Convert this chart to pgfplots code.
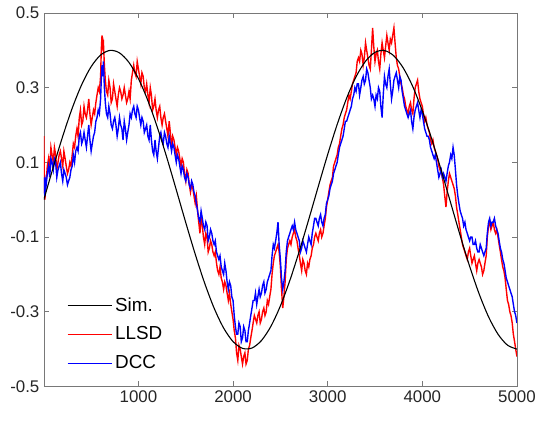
\documentclass[border=0pt]{standalone}
\usepackage{fontspec}
\setmainfont{Liberation Sans}
\usepackage{pgfplots}
\pgfplotsset{compat=1.18}
\usepackage{pgfplotstable}
\definecolor{axgray}{RGB}{120,120,120}
\definecolor{txtgray}{RGB}{38,38,38}

\pgfplotstableread{
x r b
0 .17 .06
6 .04 .02
12 .00 .01
18 .04 .05
25 .05 .04
37 .09 .07
50 .11 .09
62 .08 .06
75 .14 .11
87 .12 .10
100 .10 .08
112 .14 .11
125 .12 .10
137 .08 .06
150 .10 .08
162 .12 .09
175 .13 .10
187 .11 .07
200 .09 .05
212 .13 .08
225 .11 .07
237 .09 .06
250 .07 .04
262 .08 .05
275 .10 .06
287 .09 .08
300 .12 .09
312 .15 .12
325 .14 .10
337 .17 .13
350 .19 .14
362 .17 .13
375 .22 .17
387 .24 .18
400 .20 .15
412 .21 .16
425 .25 .18
437 .23 .16
450 .22 .14
462 .24 .17
475 .27 .20
487 .23 .16
500 .20 .13
512 .22 .15
525 .24 .17
537 .23 .18
550 .26 .21
562 .28 .22
575 .30 .24
587 .29 .23
600 .33 .27
607 .40 .32
615 .44 .36
622 .41 .33
630 .42 .37
640 .36 .30
650 .32 .26
662 .29 .23
675 .28 .22
687 .32 .25
700 .30 .23
712 .26 .20
725 .27 .19
737 .31 .21
750 .29 .22
762 .27 .20
775 .25 .17
787 .28 .19
800 .30 .22
812 .29 .20
825 .27 .19
837 .28 .16
850 .30 .21
862 .28 .19
875 .26 .16
887 .27 .18
900 .29 .20
912 .27 .23
925 .32 .22
937 .34 .24
950 .36 .25
962 .34 .23
975 .33 .22
987 .37 .25
1000 .35 .24
1012 .33 .22
1025 .31 .20
1037 .34 .22
1050 .33 .21
1062 .30 .18
1075 .29 .19
1087 .31 .20
1100 .28 .17
1112 .26 .16
1125 .30 .20
1137 .28 .16
1150 .24 .13
1162 .25 .12
1175 .27 .16
1187 .24 .13
1200 .22 .11
1212 .24 .14
1225 .25 .17
1237 .22 .18
1250 .20 .16
1262 .22 .15
1275 .23 .18
1287 .21 .17
1300 .19 .15
1312 .17 .14
1325 .21 .17
1337 .18 .15
1350 .14 .13
1362 .17 .15
1375 .16 .14
1387 .14 .12
1400 .12 .10
1412 .14 .12
1425 .13 .11
1437 .11 .09
1450 .09 .07
1462 .11 .09
1475 .10 .08
1487 .07 .06
1500 .05 .05
1512 .08 .07
1525 .07 .06
1537 .04 .04
1550 .02 .03
1562 .04 .05
1575 .03 .04
1587 .01 .02
1600 -.01 .01
1612 .01 -.01
1625 -.03 -.03
1637 -.06 -.05
1650 -.09 -.06
1662 -.05 -.03
1675 -.07 -.05
1687 -.10 -.07
1700 -.12 -.08
1712 -.09 -.06
1725 -.10 -.07
1737 -.14 -.11
1750 -.13 -.10
1762 -.11 -.08
1775 -.12 -.09
1787 -.14 -.11
1800 -.15 -.12
1812 -.14 -.11
1825 -.17 -.14
1837 -.19 -.15
1850 -.20 -.16
1862 -.18 -.15
1875 -.21 -.18
1887 -.22 -.19
1900 -.24 -.20
1912 -.22 -.17
1925 -.23 -.19
1937 -.25 -.22
1950 -.27 -.24
1962 -.25 -.22
1975 -.28 -.23
1987 -.30 -.26
2000 -.32 -.27
2012 -.35 -.31
2025 -.37 -.34
2037 -.41 -.36
2050 -.43 -.36
2062 -.39 -.33
2075 -.40 -.34
2087 -.42 -.38
2100 -.44 -.37
2112 -.42 -.34
2125 -.41 -.35
2137 -.44 -.38
2150 -.43 -.38
2162 -.40 -.35
2175 -.39 -.33
2187 -.37 -.31
2200 -.35 -.29
2212 -.33 -.27
2225 -.31 -.27
2237 -.32 -.25
2250 -.33 -.28
2262 -.31 -.26
2275 -.30 -.24
2287 -.33 -.26
2300 -.32 -.25
2312 -.30 -.23
2325 -.29 -.22
2337 -.31 -.25
2350 -.30 -.24
2362 -.27 -.22
2375 -.28 -.21
2387 -.26 -.20
2400 -.24 -.19
2412 -.20 -.15
2425 -.17 -.12
2437 -.15 -.13
2450 -.14 -.11
2462 -.13 -.09
2475 -.12 -.06
2487 -.14 -.12
2500 -.18 -.16
2512 -.24 -.21
2525 -.29 -.24
2537 -.26 -.22
2550 -.22 -.19
2562 -.16 -.14
2575 -.13 -.11
2587 -.12 -.10
2600 -.11 -.09
2612 -.12 -.08
2625 -.10 -.07
2637 -.09 -.08
2650 -.08 -.06
2662 -.10 -.08
2675 -.11 -.09
2687 -.13 -.10
2700 -.15 -.11
2712 -.17 -.14
2725 -.19 -.13
2737 -.16 -.11
2750 -.17 -.12
2762 -.19 -.13
2775 -.20 -.14
2787 -.17 -.12
2800 -.18 -.10
2812 -.16 -.11
2825 -.15 -.12
2837 -.13 -.09
2850 -.12 -.07
2862 -.10 -.05
2875 -.09 -.05
2887 -.10 -.06
2900 -.11 -.07
2912 -.09 -.05
2925 -.08 -.04
2937 -.10 -.06
2950 -.09 -.07
2962 -.07 -.05
2975 -.05 -.04
2987 -.02 -.01
3000 .00 .00
3012 .02 .01
3025 .04 .03
3037 .05 .04
3050 .06 .05
3062 .09 .07
3075 .10 .08
3087 .11 .09
3100 .12 .10
3112 .14 .12
3125 .15 .14
3137 .17 .15
3150 .19 .16
3162 .20 .17
3175 .22 .19
3187 .23 .21
3200 .24 .21
3212 .26 .22
3225 .28 .23
3237 .27 .24
3250 .29 .25
3262 .31 .27
3275 .32 .28
3287 .33 .30
3300 .34 .29
3312 .37 .31
3325 .38 .31
3337 .37 .28
3350 .40 .30
3362 .39 .32
3375 .36 .33
3387 .38 .31
3400 .42 .32
3412 .40 .35
3425 .38 .34
3437 .36 .32
3450 .35 .30
3462 .40 .27
3475 .46 .28
3487 .41 .27
3500 .37 .25
3512 .39 .28
3525 .40 .27
3537 .37 .30
3550 .35 .29
3562 .39 .25
3575 .42 .22
3587 .40 .28
3600 .38 .33
3612 .41 .31
3625 .44 .30
3637 .42 .33
3650 .40 .35
3662 .43 .31
3675 .42 .27
3687 .44 .29
3700 .46 .32
3712 .42 .33
3725 .38 .34
3737 .36 .32
3750 .35 .30
3762 .33 .33
3775 .31 .32
3787 .30 .29
3800 .28 .27
3812 .27 .25
3825 .25 .24
3837 .24 .23
3850 .23 .22
3862 .25 .23
3875 .26 .24
3887 .24 .21
3900 .23 .19
3912 .27 .22
3925 .30 .24
3937 .31 .25
3950 .32 .26
3962 .29 .24
3975 .27 .22
3987 .26 .24
4000 .25 .23
4012 .23 .21
4025 .21 .19
4037 .22 .18
4050 .20 .17
4062 .19 .17
4075 .18 .16
4087 .16 .14
4100 .15 .13
4112 .16 .12
4125 .14 .11
4137 .13 .12
4150 .12 .10
4162 .11 .08
4175 .09 .06
4187 .08 .07
4200 .07 .08
4212 .06 .06
4225 .04 .07
4237 .01 .06
4250 -.02 .05
4262 .02 .07
4275 .05 .09
4287 .07 .10
4300 .06 .12
4312 .05 .11
4325 .04 .14
4337 .03 .12
4350 .01 .08
4362 -.02 .04
4375 -.04 .01
4387 -.06 -.01
4400 -.08 -.03
4412 -.10 -.04
4425 -.12 -.05
4437 -.13 -.07
4450 -.14 -.06
4462 -.15 -.08
4475 -.16 -.09
4487 -.14 -.10
4500 -.13 -.11
4512 -.15 -.10
4525 -.17 -.10
4537 -.16 -.12
4550 -.15 -.12
4562 -.17 -.11
4575 -.19 -.13
4587 -.17 -.14
4600 -.16 -.14
4612 -.17 -.12
4625 -.18 -.13
4637 -.20 -.14
4650 -.19 -.15
4662 -.17 -.14
4675 -.15 -.13
4687 -.10 -.09
4700 -.07 -.06
4712 -.06 -.05
4725 -.08 -.07
4737 -.07 -.06
4750 -.06 -.06
4762 -.08 -.05
4775 -.09 -.07
4787 -.08 -.08
4800 -.10 -.09
4812 -.12 -.11
4825 -.14 -.13
4837 -.16 -.14
4850 -.18 -.16
4862 -.19 -.17
4875 -.21 -.19
4887 -.24 -.21
4900 -.27 -.22
4912 -.28 -.23
4925 -.30 -.24
4937 -.31 -.25
4950 -.33 -.26
4962 -.36 -.28
4975 -.38 -.30
4987 -.40 -.31
5000 -.42 -.33
}\noisy

\pgfplotstableread{
x y
0 0
100 0.0872
200 0.1701
300 0.2450
400 0.3079
500 0.3562
600 0.3873
700 0.3998
800 0.3930
900 0.3674
1000 0.3242
1100 0.2651
1200 0.1936
1300 0.1127
1400 0.0263
1500 -0.0613
1600 -0.1459
1700 -0.2236
1800 -0.2905
1900 -0.3435
2000 -0.3799
2100 -0.3980
2200 -0.3971
2300 -0.3770
2400 -0.3389
2500 -0.2844
2600 -0.2162
2700 -0.1377
2800 -0.0526
2900 0.0351
3000 0.1211
3100 0.2013
3200 0.2718
3300 0.3293
3400 0.3708
3500 0.3946
3600 0.3994
3700 0.3850
3800 0.3521
3900 0.3024
4000 0.2380
4100 0.1621
4200 0.0786
4300 -0.0088
4400 -0.0957
4500 -0.1781
4600 -0.2518
4700 -0.3135
4800 -0.3601
4900 -0.3894
5000 -0.4000
}\simdata

\begin{document}
\begin{tikzpicture}
\begin{axis}[
  scale only axis, width=475bp, height=375bp,
  xmin=0, xmax=5000, ymin=-0.5, ymax=0.5,
  xtick={1000,2000,3000,4000,5000},
  xticklabels={1000,2000,3000,4000,5000},
  ytick={-0.5,-0.3,-0.1,0.1,0.3,0.5},
  yticklabels={-0.5,-0.3,-0.1,0.1,0.3,0.5},
  tick align=inside, major tick length=5bp,
  axis line style={axgray, line width=0.6bp},
  every tick/.style={axgray, line width=0.6bp},
  tick label style={font=\fontsize{17}{19}\selectfont, text=txtgray},
  xticklabel style={yshift=-1bp},
  yticklabel style={xshift=-1bp},
  legend style={at={(0.048,0.028)}, anchor=south west, draw=none, fill=none,
    font=\fontsize{19}{21}\selectfont, row sep=4bp, inner sep=0pt,
    nodes={inner sep=2bp, text height=16bp, text depth=5bp}},
  legend cell align=left,
  legend image code/.code={\draw[#1] (0bp,0bp) -- (45bp,0bp);},
]
\addlegendimage{color=black, line width=1.5bp}
\addlegendimage{color=red, line width=1.5bp}
\addlegendimage{color=blue, line width=1.6bp}
\addplot[red, line width=1.4bp, forget plot] table[x=x, y=r] {\noisy};
\addplot[blue, line width=1.4bp, forget plot] table[x=x, y=b] {\noisy};
\addplot[black, line width=1.1bp, smooth, forget plot] table[x=x, y=y] {\simdata};
\legend{Sim., LLSD, DCC}
\end{axis}
\path ([xshift=-44bp,yshift=-35bp]current axis.south west) rectangle ([xshift=20bp,yshift=13bp]current axis.north east);
\end{tikzpicture}
\end{document}
